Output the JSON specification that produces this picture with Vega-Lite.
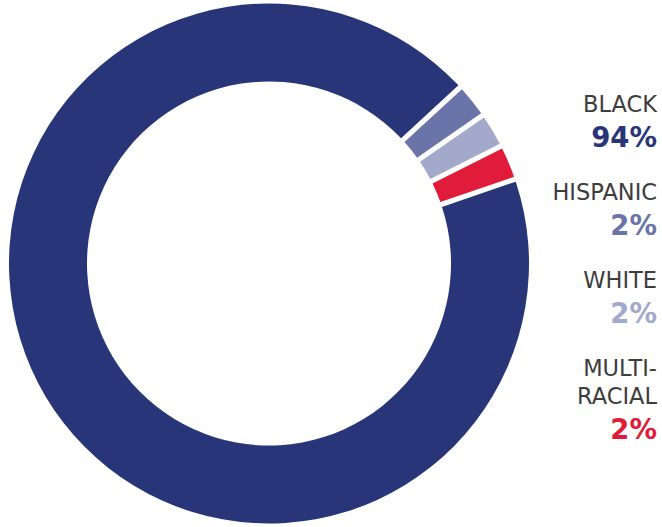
{
  "$schema": "https://vega.github.io/schema/vega-lite/v6.json",
  "padding": {"left": 0, "top": 0, "right": 5, "bottom": 0},
  "spacing": 0,
  "background": "white",
  "config": {"view": {"stroke": null}},
  "data": {
    "values": [
      {"category": "Hispanic", "label": "HISPANIC", "pct": "2%", "share": 2.2, "order": 1, "lines": 1},
      {"category": "White", "label": "WHITE", "pct": "2%", "share": 2.2, "order": 2, "lines": 1},
      {"category": "Multi-racial", "label": "MULTI-\nRACIAL", "pct": "2%", "share": 2.2, "order": 3, "lines": 2},
      {"category": "Black", "label": "BLACK", "pct": "94%", "share": 93.4, "order": 4, "lines": 1}
    ]
  },
  "hconcat": [
    {
      "width": 538,
      "height": 527,
      "mark": {"type": "arc", "outerRadius": 260, "innerRadius": 182, "padAngle": 0.016},
      "encoding": {
        "theta": {"field": "share", "type": "quantitative", "stack": true, "scale": {"range": [0.826, 7.109]}},
        "order": {"field": "order", "type": "quantitative"},
        "color": {
          "field": "category", "type": "nominal", "legend": null,
          "scale": {"domain": ["Black", "Hispanic", "White", "Multi-racial"], "range": ["#283579", "#6a74a8", "#a2a9ca", "#e01c3a"]}
        }
      }
    },
    {
      "width": 119,
      "height": 527,
      "encoding": {
        "x": {"datum": 1, "type": "quantitative", "scale": {"domain": [0, 1]}, "axis": null},
        "y": {"field": "category", "type": "nominal", "axis": null,
              "scale": {"type": "point", "domain": ["Black", "Hispanic", "White", "Multi-racial"], "range": [112, 376], "padding": 0}}
      },
      "layer": [
        {
          "mark": {"type": "text", "align": "right", "baseline": "alphabetic", "font": "DejaVu Sans", "fontSize": 22.5, "color": "#3d3d3d", "lineBreak": "\n", "lineHeight": 28},
          "encoding": {"text": {"field": "label"}}
        },
        {
          "mark": {"type": "text", "align": "right", "baseline": "alphabetic", "font": "DejaVu Sans", "fontSize": 27.5, "fontWeight": "bold", "dy": 35},
          "encoding": {
            "text": {"field": "pct"},
            "yOffset": {"field": "lines", "type": "quantitative", "scale": {"domain": [1, 2], "range": [0, 28]}},
            "color": {"field": "category", "type": "nominal", "legend": null}
          }
        }
      ]
    }
  ]
}
